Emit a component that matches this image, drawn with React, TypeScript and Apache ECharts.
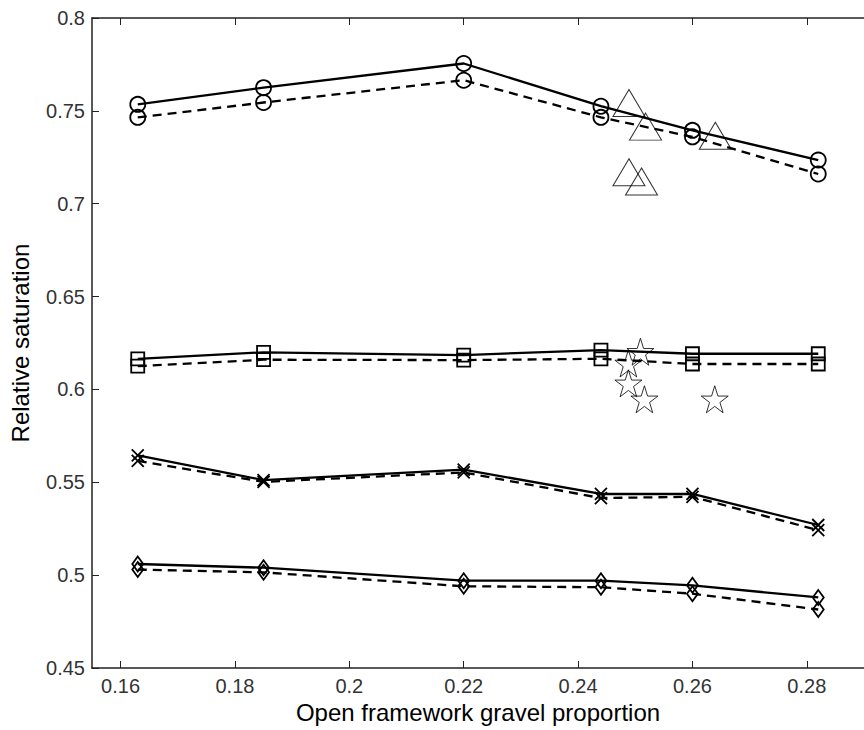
import React, { useEffect, useRef } from "react";
import * as echarts from "echarts";

const xs = [0.163, 0.185, 0.22, 0.244, 0.26, 0.282];

const circleSolid = [0.7535, 0.7625, 0.7755, 0.7525, 0.7395, 0.7235];
const circleDashed = [0.7465, 0.7545, 0.7665, 0.7465, 0.7360, 0.7160];
const squareSolid = [0.6165, 0.6200, 0.6185, 0.6212, 0.6192, 0.6192];
const squareDashed = [0.6125, 0.6160, 0.6158, 0.6165, 0.6137, 0.6137];
const crossSolid = [0.5645, 0.5512, 0.5568, 0.5437, 0.5437, 0.5270];
const crossDashed = [0.5615, 0.5502, 0.5553, 0.5415, 0.5422, 0.5242];
const diamondSolid = [0.5060, 0.5040, 0.4970, 0.4970, 0.4945, 0.4880];
const diamondDashed = [0.5030, 0.5015, 0.4940, 0.4935, 0.4900, 0.4815];

const triangleX = [0.2489, 0.2518, 0.2640, 0.2489, 0.2511];
const triangleY = [0.7542, 0.7415, 0.7366, 0.7169, 0.7120];
const starX = [0.2509, 0.2488, 0.2488, 0.2516, 0.2639];
const starY = [0.6203, 0.6140, 0.6033, 0.5947, 0.5947];

const xTicks = [0.16, 0.18, 0.2, 0.22, 0.24, 0.26, 0.28];
const yTicks = [0.45, 0.5, 0.55, 0.6, 0.65, 0.7, 0.75, 0.8];

const STAR =
  "path://M50,0 L61.2,34.5 L97.6,34.5 L68.2,55.9 L79.4,90.5 L50,69.1 L20.6,90.5 L31.8,55.9 L2.4,34.5 L38.8,34.5 Z";
const CROSS = "path://M0,0 L10,10 M0,10 L10,0";

const FONT = "Liberation Sans, Arial, sans-serif";

function lineSeries(vals: number[], symbol: string, size: any, dashed: boolean) {
  return {
    type: "line",
    data: xs.map((x, i) => [x, vals[i]]),
    symbol,
    symbolSize: size,
    showAllSymbol: true,
    lineStyle: { color: "#000", width: 2.3, type: dashed ? [9, 6] : "solid" },
    itemStyle: { color: "rgba(0,0,0,0)", borderColor: "#000", borderWidth: 1.8 },
    z: dashed ? 3 : 4,
  };
}

function scatterSeries(xv: number[], yv: number[], symbol: string, size: any) {
  return {
    type: "scatter",
    data: xv.map((x, i) => [x, yv[i]]),
    symbol,
    symbolSize: size,
    itemStyle: { color: "rgba(0,0,0,0)", borderColor: "#000", borderWidth: 1 },
    z: 5,
  };
}

export default function App() {
  const ref = useRef<HTMLDivElement>(null);
  useEffect(() => {
    if (!ref.current) return;
    const chart = echarts.init(ref.current, undefined, { renderer: "svg" });
    const axisLine = { show: true, lineStyle: { color: "#222", width: 1.5 } };
    chart.setOption({
      animation: false,
      backgroundColor: "#fff",
      grid: { left: 90, top: 18, width: 782, height: 650 },
      xAxis: [
        {
          type: "value",
          min: 0.155,
          max: 0.29,
          position: "bottom",
          axisLine,
          splitLine: { show: false },
          axisTick: { show: true, inside: true, length: 7, customValues: xTicks, lineStyle: { color: "#222" } },
          axisLabel: {
            customValues: xTicks,
            color: "#333",
            fontFamily: FONT,
            fontSize: 20,
            margin: 8,
          },
          name: "Open framework gravel proportion",
          nameLocation: "middle",
          nameGap: 32,
          nameTextStyle: { color: "#000", fontFamily: FONT, fontSize: 24 },
        },
        {
          type: "value",
          min: 0.155,
          max: 0.29,
          position: "top",
          axisLine,
          splitLine: { show: false },
          axisTick: { show: true, inside: true, length: 7, customValues: xTicks, lineStyle: { color: "#222" } },
          axisLabel: { show: false },
        },
      ],
      yAxis: {
        type: "value",
        min: 0.45,
        max: 0.8,
        axisLine,
        splitLine: { show: false },
        axisTick: { show: true, inside: true, length: 7, customValues: yTicks, lineStyle: { color: "#222" } },
        axisLabel: {
          customValues: yTicks,
          color: "#333",
          fontFamily: FONT,
          fontSize: 20,
          margin: 7,
        },
        name: "Relative saturation",
        nameLocation: "middle",
        nameGap: 60,
        nameTextStyle: { color: "#000", fontFamily: FONT, fontSize: 24 },
      },
      series: [
        lineSeries(circleDashed, "circle", 15, true),
        lineSeries(circleSolid, "circle", 15, false),
        lineSeries(squareDashed, "rect", 13, true),
        lineSeries(squareSolid, "rect", 13, false),
        lineSeries(crossDashed, CROSS, 12, true),
        lineSeries(crossSolid, CROSS, 12, false),
        lineSeries(diamondDashed, "diamond", [11, 15], true),
        lineSeries(diamondSolid, "diamond", [11, 15], false),
        scatterSeries(triangleX, triangleY, "triangle", [32, 27]),
        scatterSeries(starX, starY, STAR, 27),
      ],
    });
    return () => chart.dispose();
  }, []);
  return (
    <div style={{ position: "absolute", left: 0, top: 0, width: 864, height: 730, background: "#fff" }}>
      <div ref={ref} style={{ width: 864, height: 730 }} />
    </div>
  );
}
